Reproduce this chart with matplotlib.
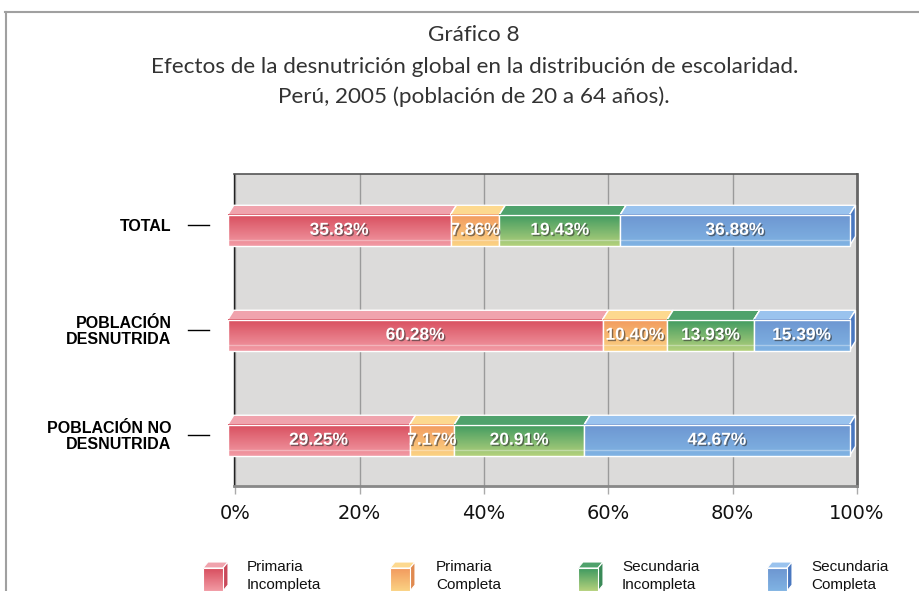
import numpy as np
import matplotlib.pyplot as plt
from matplotlib.colors import LinearSegmentedColormap
from matplotlib.patches import Polygon
import matplotlib.patheffects as pe

# Datos del gráfico
categories = ['TOTAL', 'POBLACIÓN\nDESNUTRIDA', 'POBLACIÓN NO\nDESNUTRIDA']
series_names = ['Primaria\nIncompleta', 'Primaria\nCompleta',
                'Secundaria\nIncompleta', 'Secundaria\nCompleta']
primaria_incompleta = [35.83, 60.28, 29.25]
primaria_completa = [7.86, 10.40, 7.17]
secundaria_incompleta = [19.43, 13.93, 20.91]
secundaria_completa = [36.88, 15.39, 42.67]
x_ticks = [0, 20, 40, 60, 80, 100]
x_labels = ['0%', '20%', '40%', '60%', '80%', '100%']

title_lines = ['Gráfico 8',
               'Efectos de la desnutrición global en la distribución de escolaridad.',
               'Perú, 2005 (población de 20 a 64 años).']

# (frente arriba, frente abajo, cara superior, cara lateral)
COLORS = [
    ('#d84e5e', '#f29aa4', '#f0a3ad', '#c9485a'),
    ('#f29a5e', '#fbd283', '#fdd98f', '#e08a50'),
    ('#3f9a60', '#b4d17c', '#4fa26c', '#3a8a58'),
    ('#6d96d1', '#80b3e3', '#9ac3ee', '#4a78c0'),
]

values = [primaria_incompleta, primaria_completa,
          secundaria_incompleta, secundaria_completa]

SHIFT = 1.2     # desplazamiento del frente (en %)
DX = 0.95       # profundidad en x (%)
DY = 0.09       # profundidad en y
HALF = 0.148    # media altura del frente
OFF = 0.05      # frente algo debajo de la categoria

fig = plt.figure(figsize=(9.19, 5.91), dpi=100)

# capa de fondo: marco y leyenda
bg = fig.add_axes([0, 0, 1, 1])
bg.set_xlim(0, 919)
bg.set_ylim(591, 0)
bg.axis('off')
bg.plot([5, 919], [12, 12], color='#a0a0a0', lw=1.5)
bg.plot([6, 6], [12, 591], color='#a0a0a0', lw=1.5)

for k, t in enumerate(title_lines):
    fig.text(0.516, 1 - [35, 67, 97][k] / 591, t, ha='center', va='center',
             fontsize=16.2, family=['Lato', 'DejaVu Sans'], weight='normal',
             color='#333333')

ax = fig.add_axes([234 / 919, 1 - 486 / 591, 623 / 919, 312 / 591])
ax.set_facecolor('#dcdbda')

def gradient(a, x0, x1, y0, y1, c_top, c_bot, z):
    cmap = LinearSegmentedColormap.from_list('g', [c_top, c_bot])
    grad = np.linspace(0, 1, 64).reshape(-1, 1)
    im = a.imshow(grad, extent=[x0, x1, y0, y1], origin='upper', aspect='auto',
                  cmap=cmap, zorder=z, interpolation='bilinear')
    im.set_clip_on(False)

label_fx = pe.SimplePatchShadow(offset=(1, -1), shadow_rgbFace='#333333', alpha=0.6)

n = len(categories)
for i in range(n):
    yc = (n - 1 - i) - OFF
    yb, yt = yc - HALF, yc + HALF
    left = 0.0
    for s in range(len(values)):
        v = values[s][i]
        ft, fb, top, side = COLORS[s]
        x0, x1 = left - SHIFT, left + v - SHIFT
        z = 3 + s * 0.1
        # cara superior
        ax.add_patch(Polygon([(x0, yt), (x0 + DX, yt + DY), (x1 + DX, yt + DY), (x1, yt)],
                             closed=True, facecolor=top, edgecolor='white', lw=1,
                             zorder=z, clip_on=False))
        # cara lateral
        ax.add_patch(Polygon([(x1, yt), (x1 + DX, yt + DY), (x1 + DX, yb + DY), (x1, yb)],
                             closed=True, facecolor=side, edgecolor='white', lw=1,
                             zorder=z, clip_on=False))
        # frente con degradado
        gradient(ax, x0, x1, yb, yt, ft, fb, z + 0.01)
        ax.add_patch(Polygon([(x0, yb), (x0, yt), (x1, yt), (x1, yb)], closed=True,
                             facecolor='none', edgecolor='white', lw=1,
                             zorder=z + 0.02, clip_on=False))
        ax.plot([x0, x1], [yb + 0.055, yb + 0.055], color='white', alpha=0.35,
                lw=1, zorder=z + 0.02, clip_on=False)
        ax.text((x0 + x1) / 2, yc, f'{v:.2f}%', ha='center', va='center',
                color='white', fontsize=12.5, weight='bold',
                family=['Liberation Sans Narrow', 'Liberation Sans', 'DejaVu Sans'],
                zorder=6, path_effects=[label_fx, pe.Normal()])
        left += v

ax.set_xlim(-0.2, 99.8)
ax.set_ylim(-0.486, n - 1 + 0.486)
ax.set_xticks(x_ticks)
ax.set_xticklabels(x_labels, fontsize=14, family='DejaVu Sans', color='#111111')
ax.tick_params(axis='x', length=6, width=1, color='#aaaaaa', pad=7)
ax.set_yticks([n - 1 - i for i in range(n)])
ax.set_yticklabels(categories, fontsize=11.5, weight='bold',
                   family=['Liberation Sans', 'DejaVu Sans'], linespacing=1.05)
ax.tick_params(axis='y', length=0, pad=45)
for lab in ax.get_yticklabels():
    lab.set_horizontalalignment('right')

# guiones de las categorias
for i in range(n):
    ax.plot([-7.6, -4.2], [n - 1 - i, n - 1 - i], color='black', lw=1,
            clip_on=False, zorder=5)

ax.grid(axis='x', color='#9a9a9a', lw=1, zorder=1)
ax.set_axisbelow(True)
ax.spines['left'].set_color('#222222')
ax.spines['left'].set_linewidth(1)
ax.spines['top'].set_color('#555555')
ax.spines['top'].set_linewidth(1.2)
ax.spines['right'].set_color('#666666')
ax.spines['right'].set_linewidth(2)
ax.spines['bottom'].set_color('#888888')
ax.spines['bottom'].set_linewidth(2)

# leyenda dibujada a mano
cube_x = [203, 390, 578, 767]
text_x = [247, 436, 622, 811]
for s, name in enumerate(series_names):
    ft, fb, top, side = COLORS[s]
    x0 = cube_x[s]
    bg.add_patch(Polygon([(x0, 568), (x0 + 5, 562), (x0 + 25, 562), (x0 + 20, 568)],
                         closed=True, facecolor=top, edgecolor='white', lw=0.8))
    bg.add_patch(Polygon([(x0 + 20, 568), (x0 + 25, 562), (x0 + 25, 585), (x0 + 20, 591)],
                         closed=True, facecolor=side, edgecolor='white', lw=0.8))
    gradient(bg, x0, x0 + 20, 591, 568, ft, fb, 2)
    bg.add_patch(Polygon([(x0, 568), (x0 + 20, 568), (x0 + 20, 591), (x0, 591)],
                         closed=True, facecolor='none', edgecolor='white', lw=0.8, zorder=3))
    bg.text(text_x[s], 560, name, ha='left', va='top', fontsize=11,
            family=['Liberation Sans', 'DejaVu Sans'], linespacing=1.4, color='#111111')
bg.set_xlim(0, 919)
bg.set_ylim(591, 0)

fig.savefig('out.png', dpi=100)
